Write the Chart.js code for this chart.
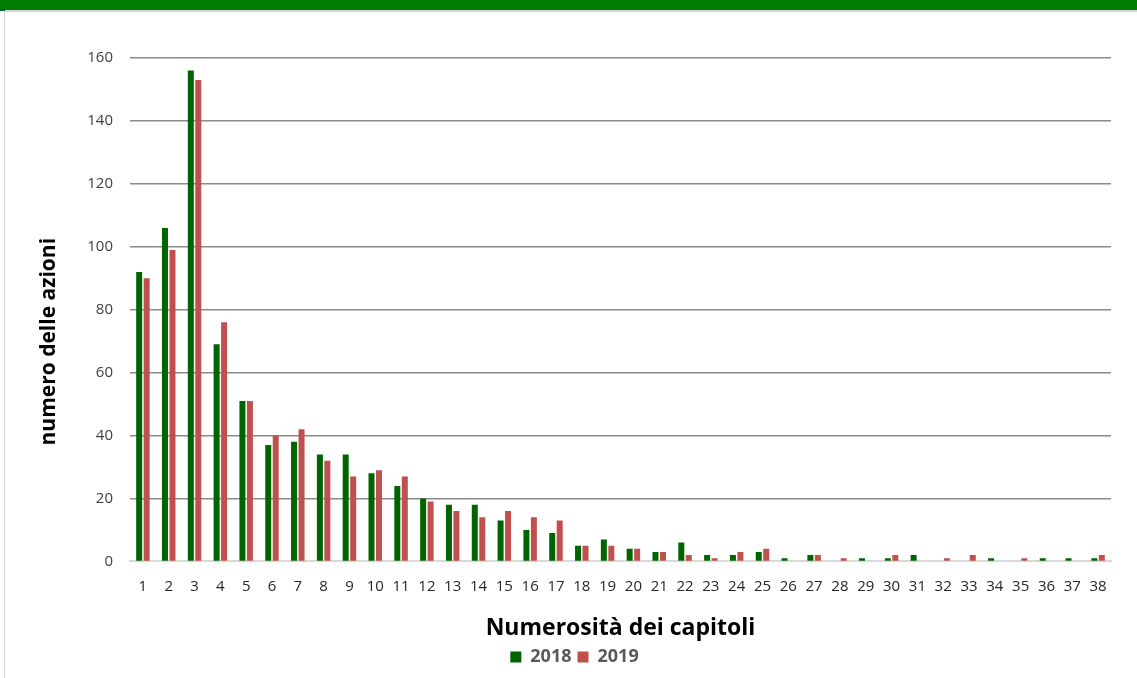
<!DOCTYPE html>
<html>
<head>
<meta charset="utf-8">
<script src="https://cdn.jsdelivr.net/npm/chart.js@4"></script>
<style>
  html, body { margin: 0; padding: 0; background: #fff; width: 1137px; height: 678px; overflow: hidden; }
  #topbar { position: absolute; left: 0; top: 0; width: 1137px; height: 10px; background: #007c00; }
  #topline { position: absolute; left: 4px; top: 10px; width: 1133px; height: 2px; background: #d6d6d6; }
  #leftline { position: absolute; left: 4px; top: 10px; width: 1px; height: 668px; background: #d6d6d6; }
  #mark { position: absolute; left: 0; top: 9px; width: 5px; height: 2px; background: #00604a; }
  #chart { position: absolute; left: 0; top: 0; }
</style>
</head>
<body>
<div id="topbar"></div>
<div id="topline"></div>
<div id="leftline"></div>
<div id="mark"></div>
<canvas id="chart" width="1137" height="678"></canvas>
<script>
const capitoli = ['1','2','3','4','5','6','7','8','9','10','11','12','13','14','15','16','17','18','19',
  '20','21','22','23','24','25','26','27','28','29','30','31','32','33','34','35','36','37','38'];
const azioni2018 = [92,106,156,69,51,37,38,34,34,28,24,20,18,18,13,10,9,5,7,4,3,6,2,2,3,1,2,0,1,1,2,0,0,1,0,1,1,1];
const azioni2019 = [90,99,153,76,51,40,42,32,27,29,27,19,16,14,16,14,13,5,5,4,3,2,1,3,4,0,2,1,0,2,0,1,2,0,1,0,0,2];

const FONT = '"Open Sans", Lato, sans-serif';
const Y_TITLE = 'numero delle azioni';

// titolo asse y centrato su tutta l'area (etichette comprese), come nell'originale
const yTitlePlugin = {
  id: 'yTitle',
  afterDraw(chart) {
    const ctx = chart.ctx;
    const y = chart.scales.y;
    ctx.save();
    ctx.translate(49, (y.top + y.bottom) / 2 + 32);
    ctx.rotate(-Math.PI / 2);
    ctx.font = `bold 21px ${FONT}`;
    ctx.fillStyle = '#000';
    ctx.textAlign = 'center';
    ctx.textBaseline = 'middle';
    ctx.fillText(Y_TITLE, 0, 0);
    ctx.restore();
  }
};

new Chart(document.getElementById('chart').getContext('2d'), {
  type: 'bar',
  data: {
    labels: capitoli,
    datasets: [
      { label: '2018', data: azioni2018, backgroundColor: '#006400', categoryPercentage: 0.58, barPercentage: 0.8 },
      { label: '2019', data: azioni2019, backgroundColor: '#c0504d', categoryPercentage: 0.58, barPercentage: 0.8 },
    ]
  },
  options: {
    responsive: false,
    animation: false,
    layout: { padding: { top: 58, left: 38, right: 26, bottom: 2 } },
    plugins: {
      tooltip: { enabled: false },
      legend: {
        position: 'bottom',
        labels: {
          boxWidth: 11, boxHeight: 11, padding: 6,
          color: '#595959',
          font: { family: FONT, size: 18, weight: 'bold' },
        }
      }
    },
    scales: {
      x: {
        grid: { display: false },
        border: { color: '#d9d9d9', width: 2 },
        ticks: { color: '#262626', font: { family: FONT, size: 15 }, padding: 8, maxRotation: 0, autoSkip: false },
        title: {
          display: true, text: 'Numerosità dei capitoli', color: '#000',
          font: { family: FONT, size: 23, weight: 'bold' }, padding: { top: 11, bottom: 0 }
        }
      },
      y: {
        min: 0, max: 160,
        grid: { color: ctx => ctx.tick.value === 0 ? 'rgba(0,0,0,0)' : '#8a8a8a', lineWidth: 1.5, drawTicks: false },
        border: { display: false },
        ticks: { stepSize: 20, color: '#404040', font: { family: FONT, size: 15 }, padding: 17 },
        afterFit: scale => { scale.width = 92; }
      }
    }
  },
  plugins: [yTitlePlugin]
});
</script>
</body>
</html>
